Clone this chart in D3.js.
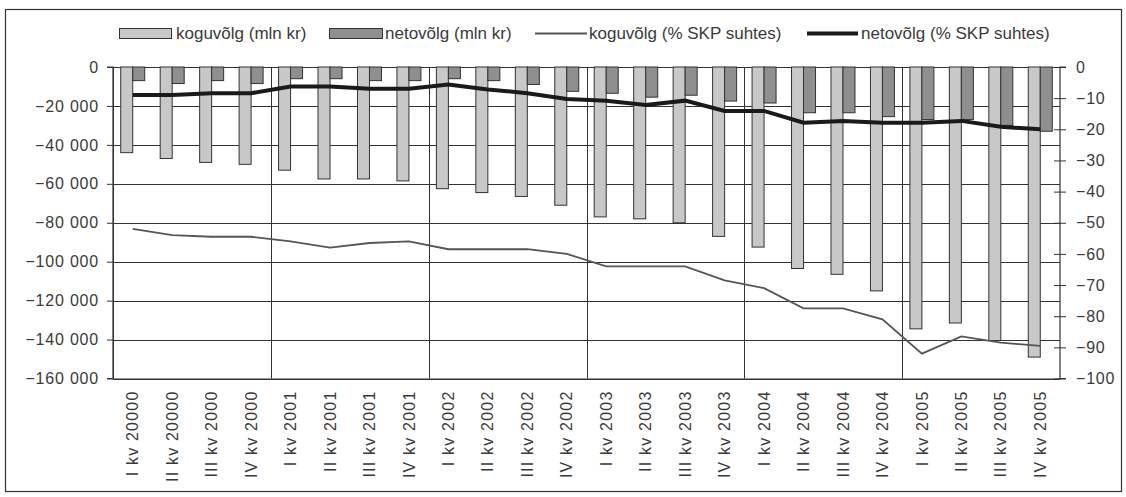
<!DOCTYPE html>
<html><head><meta charset="utf-8">
<script src="https://cdn.jsdelivr.net/npm/d3@7/dist/d3.min.js"></script>
<style>
body{margin:0;background:#fff;}
svg text{font-family:"Liberation Sans",Arial,sans-serif;fill:#3a3a3a;}
</style></head>
<body><svg id="c" width="1126" height="497"></svg>
<script>
const categories = ["I kv 20000","II kv 20000","III kv 2000","IV kv 2000","I kv 2001","II kv 2001","III kv 2001","IV kv 2001","I kv 2002","II kv 2002","III kv 2002","IV kv 2002","I kv 2003","II kv 2003","III kv 2003","IV kv 2003","I kv 2004","II kv 2004","III kv 2004","IV kv 2004","I kv 2005","II kv 2005","III kv 2005","IV kv 2005"];
const koguMln = [-44000,-47000,-49000,-50000,-53000,-57500,-57500,-58500,-62500,-64500,-66500,-71000,-77000,-78000,-80000,-87000,-92500,-103500,-106500,-115000,-134500,-131500,-140500,-149000];
const netoMln = [-7000,-8500,-7000,-8500,-6000,-6000,-7000,-7000,-6000,-7000,-9000,-12500,-13500,-15500,-14500,-17500,-18500,-23500,-23500,-25500,-27000,-27000,-30000,-33000];
const koguPct = [-52,-54,-54.5,-54.5,-56,-58,-56.5,-56,-58.5,-58.5,-58.5,-60,-64,-64,-64,-68.5,-71,-77.5,-77.5,-81,-92,-86.5,-88.5,-89.5];
const netoPct = [-9,-9,-8.4,-8.4,-6.3,-6.3,-7,-7,-5.6,-7.2,-8.4,-10.3,-10.8,-12.2,-10.8,-14.1,-14.1,-17.9,-17.3,-17.9,-17.9,-17.3,-19.2,-20];
const leftTicks = [0,-20000,-40000,-60000,-80000,-100000,-120000,-140000,-160000];
const rightTicks = [0,-10,-20,-30,-40,-50,-60,-70,-80,-90,-100];
const legendLabels = ["koguvõlg (mln kr)","netovõlg (mln kr)","koguvõlg (% SKP suhtes)","netovõlg (% SKP suhtes)"];

const svg = d3.select("#c");
const L=113, R=1060, T=67, B=378.5;
const x = d3.scaleBand().domain(categories).range([L,R]).padding(0);
const yL = d3.scaleLinear().domain([-160000,0]).range([B,T]);
const yR = d3.scaleLinear().domain([-100,0]).range([B,T]);
const ink="#333";

// outer border
svg.append("rect").attr("x",5.5).attr("y",9.5).attr("width",1116).attr("height",482)
  .attr("fill","none").attr("stroke",ink).attr("stroke-width",1.2);

// horizontal gridlines
svg.append("g").selectAll("line").data(leftTicks).join("line")
  .attr("x1",L).attr("x2",R).attr("y1",d=>Math.round(yL(d))+0.5).attr("y2",d=>Math.round(yL(d))+0.5)
  .attr("stroke",ink).attr("stroke-width",1);
// vertical year gridlines
const yearStarts = categories.filter((d,i)=>i%4===0);
svg.append("g").selectAll("line").data(yearStarts).join("line")
  .attr("x1",d=>Math.round(x(d))+0.5).attr("x2",d=>Math.round(x(d))+0.5).attr("y1",T).attr("y2",B)
  .attr("stroke",ink).attr("stroke-width",1);

// bars
const bw = 12;
svg.append("g").selectAll("rect").data(koguMln).join("rect")
  .attr("x",(d,i)=>x(categories[i])+x.bandwidth()/2-bw).attr("width",bw)
  .attr("y",yL(0)).attr("height",d=>yL(d)-yL(0))
  .attr("fill","#c8c8c8").attr("stroke",ink).attr("stroke-width",1);
svg.append("g").selectAll("rect").data(netoMln).join("rect")
  .attr("x",(d,i)=>x(categories[i])+x.bandwidth()/2).attr("width",bw)
  .attr("y",yL(0)).attr("height",d=>yL(d)-yL(0))
  .attr("fill","#8f8f8f").attr("stroke",ink).attr("stroke-width",1);

// lines
const cx = i=>x(categories[i])+x.bandwidth()/2;
const line = d3.line().x((d,i)=>cx(i)).y(d=>yR(d));
svg.append("path").attr("d",line(koguPct)).attr("fill","none").attr("stroke","#555").attr("stroke-width",1.8);
svg.append("path").attr("d",line(netoPct)).attr("fill","none").attr("stroke","#1a1a1a").attr("stroke-width",4);

// axes
const axL = svg.append("g").attr("transform",`translate(${L},0)`)
  .call(d3.axisLeft(yL).tickValues(leftTicks).tickSize(6).tickPadding(8)
    .tickFormat(d=>d3.format(",")(d).replace(/,/g," ")));
const axR = svg.append("g").attr("transform",`translate(${R},0)`)
  .call(d3.axisRight(yR).tickValues(rightTicks).tickSize(6).tickPadding(10).tickFormat(d3.format("d")));
axR.selectAll(".tick line").attr("x1",-6);
[axL,axR].forEach(a=>{
  a.select(".domain").attr("stroke",ink).attr("stroke-width",1.2);
  a.selectAll(".tick line").attr("stroke",ink);
  a.selectAll("text").style("font-size","16px").style("letter-spacing","0.8px").attr("fill","#3a3a3a");
});
axL.select(".domain").attr("d",`M-6,${T}H0V${B}H-6`);
axR.select(".domain").attr("d",`M6,${T}H0V${B}H6`);

// x axis
const axB = svg.append("g").attr("transform",`translate(0,${B})`)
  .call(d3.axisBottom(x).tickSize(0).tickPadding(0));
axB.select(".domain").attr("stroke",ink).attr("stroke-width",1.2);
axB.selectAll("text").attr("transform","translate(0,12) rotate(-90)")
  .attr("text-anchor","end").attr("dy","0.35em").attr("y",0).attr("x",0)
  .style("font-size","16px").style("letter-spacing","1.2px").attr("fill","#3a3a3a");

// legend
const lg = svg.append("g");
const items = [
  {t:"rect",fill:"#c8c8c8",x:119,w:52,tx:176},
  {t:"rect",fill:"#8f8f8f",x:329,w:53,tx:385},
  {t:"line",stroke:"#555",sw:1.8,x:535,w:52,tx:589},
  {t:"line",stroke:"#1a1a1a",sw:4,x:807,w:51,tx:861}
];
items.forEach((it,i)=>{
  if(it.t==="rect") lg.append("rect").attr("x",it.x+0.5).attr("y",28.5).attr("width",it.w).attr("height",10)
    .attr("fill",it.fill).attr("stroke",ink);
  else lg.append("line").attr("x1",it.x).attr("x2",it.x+it.w).attr("y1",33.5).attr("y2",33.5)
    .attr("stroke",it.stroke).attr("stroke-width",it.sw);
  lg.append("text").attr("x",it.tx).attr("y",33.5).attr("dy","0.35em").style("font-size","17px")
    .text(legendLabels[i]);
});
</script></body></html>
